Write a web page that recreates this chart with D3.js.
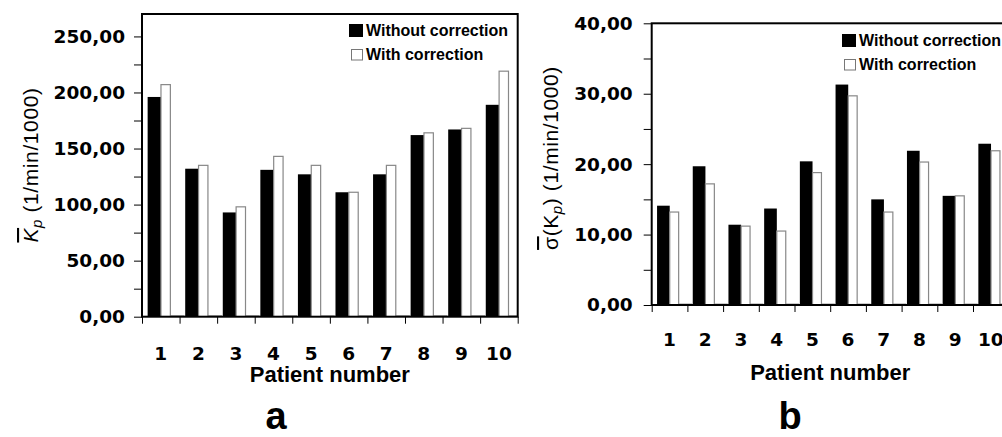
<!DOCTYPE html>
<html>
<head>
<meta charset="utf-8">
<script src="https://cdn.jsdelivr.net/npm/d3@7/dist/d3.min.js"></script>
<style>
  html, body { margin: 0; padding: 0; background: #fff; }
  svg { display: block; }
  .tick text { font-family: "DejaVu Sans", sans-serif; font-weight: bold; font-size: 18.5px; fill: #000; }
  .tick line { stroke: #000; }
  .domain { display: none; }
</style>
</head>
<body>
<svg id="chart" width="1002" height="437"></svg>
<script>
// data
var patients = [1, 2, 3, 4, 5, 6, 7, 8, 9, 10];
var seriesNames = ['Without correction', 'With correction'];

var kpWithout = [196, 132, 93, 131, 127, 111, 127, 162, 167, 189];
var kpWith    = [207, 135, 98, 143, 135, 111, 135, 164, 168, 219];
var kpTicks   = [0, 50, 100, 150, 200, 250];
var kpMinor   = [25, 75, 125, 175, 225];

var sigWithout = [14.1, 19.7, 11.4, 13.7, 20.4, 31.3, 15.0, 21.9, 15.5, 22.9];
var sigWith    = [13.2, 17.2, 11.2, 10.5, 18.8, 29.7, 13.2, 20.3, 15.5, 21.9];
var sigTicks   = [0, 10, 20, 30, 40];
var sigMinor   = [5, 15, 25, 35];

// empty third series, shows only as a grey line on the baseline
var blankSeries = [0, 0, 0, 0, 0, 0, 0, 0, 0, 0];

var svg = d3.select('#chart');
var fmt = function(d) { return d3.format('.2f')(d).replace('.', ','); };

function drawPanel(cfg) {
  var g = svg.append('g');
  var x = d3.scaleBand().domain(patients).range([cfg.left, cfg.right]);
  var y = d3.scaleLinear().domain([0, cfg.max]).range([cfg.bottom, cfg.top]);
  var bw = x.bandwidth();

  var clipId = 'clip' + cfg.id;
  svg.append('clipPath').attr('id', clipId)
    .append('rect')
    .attr('x', cfg.left).attr('y', cfg.top)
    .attr('width', cfg.right - cfg.left).attr('height', cfg.bottom - cfg.top);

  var bars = g.append('g').attr('clip-path', 'url(#' + clipId + ')');

  // blank series
  bars.selectAll('.blank').data(blankSeries).enter().append('rect')
    .attr('x', function(d, i) { return x(patients[i]) + 0.755 * bw; })
    .attr('y', function(d) { return y(d) - 1; })
    .attr('width', 0.36 * bw)
    .attr('height', function(d) { return y(0) - y(d) + 1; })
    .attr('fill', '#fff').attr('stroke', '#999').attr('stroke-width', 1);

  bars.selectAll('.without').data(cfg.without).enter().append('rect')
    .attr('x', function(d, i) { return x(patients[i]) + 0.15 * bw; })
    .attr('y', function(d) { return y(d); })
    .attr('width', 0.355 * bw)
    .attr('height', function(d) { return y(0) - y(d); })
    .attr('fill', '#000');

  bars.selectAll('.with').data(cfg.withC).enter().append('rect')
    .attr('x', function(d, i) { return x(patients[i]) + 0.505 * bw; })
    .attr('y', function(d) { return y(d); })
    .attr('width', 0.25 * bw)
    .attr('height', function(d) { return y(0) - y(d); })
    .attr('fill', '#fff').attr('stroke', '#888').attr('stroke-width', 1.2);

  // y axis, labelled and minor ticks
  g.append('g').attr('transform', 'translate(' + cfg.left + ',0)')
    .call(d3.axisLeft(y).tickValues(cfg.ticks).tickFormat(fmt).tickSize(8).tickPadding(cfg.pad));
  g.append('g').attr('transform', 'translate(' + cfg.left + ',0)')
    .call(d3.axisLeft(y).tickValues(cfg.minor).tickFormat('').tickSize(8));

  // x axis: ticks on band edges, labels centred
  var xe = d3.scaleLinear().domain([0, patients.length]).range([cfg.left, cfg.right]);
  g.append('g').attr('transform', 'translate(0,' + cfg.bottom + ')')
    .call(d3.axisBottom(xe).ticks(patients.length).tickFormat('').tickSize(7))
    .selectAll('line').attr('stroke', '#444');
  g.append('g').attr('transform', 'translate(0,' + cfg.bottom + ')')
    .call(d3.axisBottom(x).tickSize(0).tickPadding(cfg.xpad));

  // frame
  g.append('rect')
    .attr('x', cfg.left).attr('y', cfg.top)
    .attr('width', cfg.right - cfg.left).attr('height', cfg.bottom - cfg.top)
    .attr('fill', 'none').attr('stroke', '#000').attr('stroke-width', 2);

  // axis titles
  g.append('text')
    .attr('x', (cfg.left + cfg.right) / 2).attr('y', cfg.xTitleY)
    .attr('text-anchor', 'middle')
    .style('font-family', '"Liberation Sans", Arial, sans-serif')
    .style('font-weight', 'bold').style('font-size', '22px')
    .text('Patient number');

  var yt = g.append('text')
    .attr('transform', 'translate(' + cfg.yTitleX + ',' + cfg.yTitleY + ') rotate(-90)')
    .attr('text-anchor', 'middle')
    .style('font-family', '"Liberation Sans", Arial, sans-serif')
    .style('font-size', '21px').style('letter-spacing', '0.6px');
  cfg.yTitle(yt);

  // panel letter
  g.append('text')
    .attr('x', cfg.letterX).attr('y', 429)
    .attr('text-anchor', 'middle')
    .style('font-family', '"Liberation Sans", Arial, sans-serif')
    .style('font-weight', 'bold').style('font-size', '38px')
    .text(cfg.letter);

  // legend
  var lg = g.append('g')
    .style('font-family', '"Liberation Sans", Arial, sans-serif')
    .style('font-weight', 'bold').style('font-size', '16px');
  lg.append('rect').attr('x', cfg.legX).attr('y', cfg.legY - 12)
    .attr('width', 14).attr('height', 13).attr('fill', '#000');
  lg.append('text').attr('x', cfg.legX + 17).attr('y', cfg.legY).text(seriesNames[0]);
  lg.append('rect').attr('x', cfg.legX + 2.5).attr('y', cfg.legY + 13.5)
    .attr('width', 11).attr('height', 10.5)
    .attr('fill', '#fff').attr('stroke', '#777').attr('stroke-width', 1);
  lg.append('text').attr('x', cfg.legX + 17).attr('y', cfg.legY + 24).text(seriesNames[1]);
}

drawPanel({
  id: 'a', left: 142, right: 517.7, top: 14, bottom: 316.7, max: 270,
  without: kpWithout, withC: kpWith, ticks: kpTicks, minor: kpMinor,
  pad: 9, xpad: 30, xTitleY: 382, yTitleX: 38, yTitleY: 165,
  letter: 'a', letterX: 276, legX: 349, legY: 36,
  yTitle: function(t) {
    t.append('tspan').style('font-style', 'italic').attr('text-decoration', 'overline').text('K');
    t.append('tspan').style('font-style', 'italic').style('font-size', '15px').attr('dy', 4).text('p');
    t.append('tspan').attr('dy', -4).text(' (1/min/1000)');
  }
});

drawPanel({
  id: 'b', left: 651.7, right: 1008.7, top: 23.3, bottom: 305, max: 40,
  without: sigWithout, withC: sigWith, ticks: sigTicks, minor: sigMinor,
  pad: 11, xpad: 28, xTitleY: 380, yTitleX: 558, yTitleY: 158,
  letter: 'b', letterX: 790, legX: 842, legY: 46,
  yTitle: function(t) {
    t.append('tspan').attr('text-decoration', 'overline').text('\u03c3');
    t.append('tspan').text('(K');
    t.append('tspan').style('font-style', 'italic').style('font-size', '15px').attr('dy', 4).text('p');
    t.append('tspan').attr('dy', -4).text(') (1/min/1000)');
  }
});
</script>
</body>
</html>
